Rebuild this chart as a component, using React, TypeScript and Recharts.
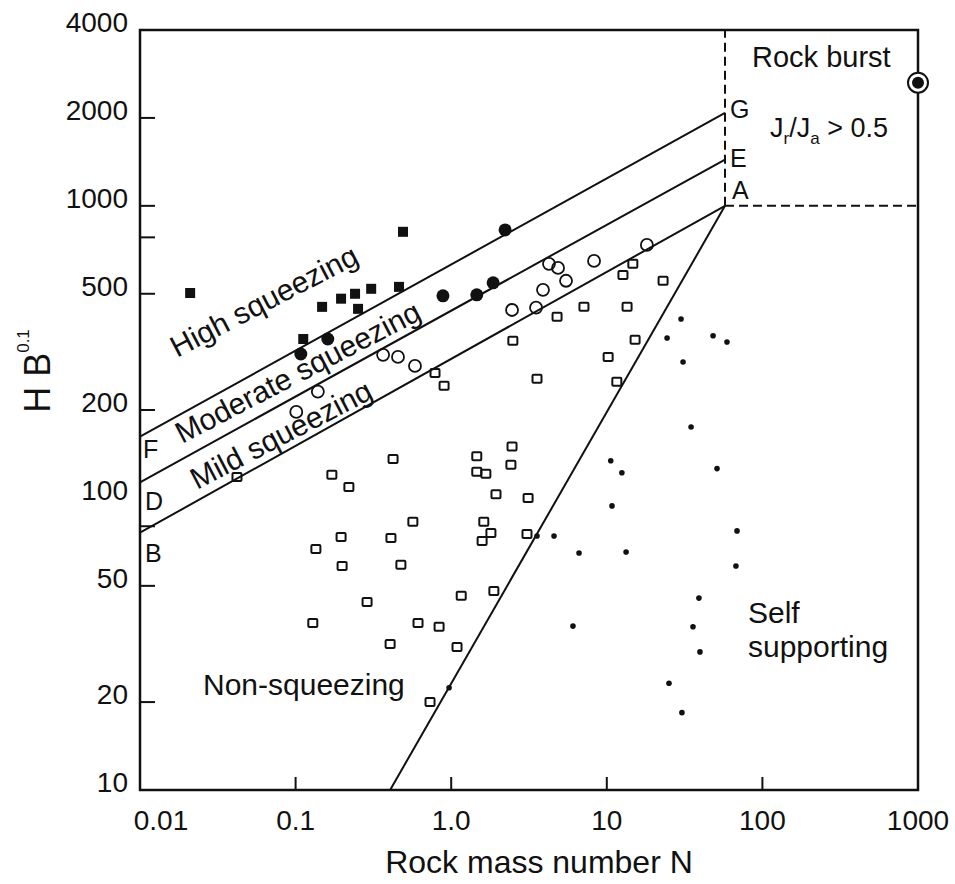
import React from 'react';
import {
  ScatterChart,
  Scatter,
  XAxis,
  YAxis,
  ReferenceLine,
  ReferenceArea,
} from 'recharts';

// [rock mass number N, H·B^0.1] pairs
const highSqueezing: [number, number][] = [
  [0.021, 503], [0.49, 815], [0.148, 451], [0.196, 481], [0.241, 500],
  [0.306, 520], [0.252, 444], [0.462, 528], [0.112, 350],
];

const moderateSqueezing: [number, number][] = [
  [0.108, 311], [0.161, 350], [0.885, 492], [1.46, 496], [1.86, 545], [2.22, 827],
];

const mildSqueezing: [number, number][] = [
  [0.139, 231], [0.101, 197], [0.365, 309], [0.455, 304], [0.585, 283],
  [4.25, 633], [4.86, 613], [5.47, 554], [3.89, 516], [8.28, 648],
  [18.1, 735], [2.46, 440], [3.51, 448],
];

const nonSqueezing: [number, number][] = [
  [0.787, 268], [0.9, 242], [0.423, 136], [0.171, 120], [0.22, 109],
  [0.042, 118], [14.7, 633], [12.7, 580], [23.0, 554], [4.79, 417],
  [7.13, 451], [13.5, 451], [2.49, 345], [15.2, 348], [10.2, 304],
  [3.56, 256], [11.6, 250], [2.46, 150], [1.46, 139], [2.42, 130],
  [1.46, 123], [1.67, 121], [1.94, 103], [3.12, 100], [0.567, 82.8],
  [0.196, 73.5], [0.41, 72.9], [0.135, 66.9], [0.199, 58.5], [0.475, 59.0],
  [1.62, 82.8], [1.8, 75.9], [1.58, 71.2], [3.07, 75.3], [0.288, 44.0],
  [1.16, 46.2], [1.88, 48.0], [0.129, 37.3], [0.612, 37.3], [0.836, 36.2],
  [0.405, 31.6], [1.09, 30.9], [0.731, 20.0],
];

const selfSupporting: [number, number][] = [
  [30.0, 410], [24.4, 353], [48.2, 359], [59.2, 342], [30.9, 292],
  [34.8, 175], [10.6, 134], [12.5, 122], [51.1, 126], [10.8, 93.9],
  [68.7, 77.1], [3.56, 74.1], [4.58, 74.1], [6.63, 64.8], [13.3, 65.3],
  [67.6, 58.5], [39.1, 45.4], [6.06, 36.4], [35.8, 36.2], [39.7, 29.7],
  [25.1, 23.2], [30.4, 18.4], [0.969, 22.4],
];

const rockBurst: [number, number][] = [[1000, 2640]];

// boundary end points (N, H·B^0.1)
const pointF = { n: 0.01, hb: 162 };
const pointG = { n: 57.5, hb: 2080 };
const pointD = { n: 0.01, hb: 113 };
const pointE = { n: 57.5, hb: 1440 };
const pointB = { n: 0.01, hb: 76 };
const pointA = { n: 57.5, hb: 1000 };
const nonSqueezingFoot = { n: 0.405, hb: 10 };

const xTicks = [0.01, 0.1, 1, 10, 100, 1000];
const xTickLabels = ['0.01', '0.1', '1.0', '10', '100', '1000'];
const xTickMarks = [0.1, 1, 10, 100];

const yTicks = [10, 20, 50, 80, 100, 200, 500, 780, 1000, 2000, 4000];
const yTickLabels = [10, 20, 50, 100, 200, 500, 1000, 2000, 4000];
const yTickMarks = [20, 50, 80, 200, 500, 780, 1000, 2000];

const toPoints = (rows: [number, number][]) => rows.map(([n, hb]) => ({ n, hb }));

const INK = '#111';
const FONT = '"Liberation Sans", Arial, sans-serif';

const XTick = (props: any) => {
  const { x, y, payload } = props;
  const i = xTicks.indexOf(payload.value);
  return (
    <g>
      {xTickMarks.includes(payload.value) && (
        <line x1={x} y1={y} x2={x} y2={y - 13} stroke={INK} strokeWidth={2} />
      )}
      <text x={x + (i === 0 ? 21 : 0)} y={y + 40} textAnchor="middle" fontSize={28} fill={INK} fontFamily={FONT}>
        {xTickLabels[i]}
      </text>
    </g>
  );
};

const YTick = (props: any) => {
  const { x, y, payload } = props;
  const v = payload.value;
  return (
    <g>
      {yTickMarks.includes(v) && <line x1={x} y1={y} x2={x + 15} y2={y} stroke={INK} strokeWidth={2} />}
      {yTickLabels.includes(v) && (
        <text x={x - 12} y={y + 2} textAnchor="end" fontSize={28} fill={INK} fontFamily={FONT}>
          {v}
        </text>
      )}
    </g>
  );
};

const FilledSquare = ({ cx, cy }: any) => <rect x={cx - 5} y={cy - 5} width={10} height={10} fill={INK} />;
const FilledCircle = ({ cx, cy }: any) => <circle cx={cx} cy={cy} r={6.5} fill={INK} />;
const OpenCircle = ({ cx, cy }: any) => (
  <circle cx={cx} cy={cy} r={6} fill="none" stroke={INK} strokeWidth={1.8} />
);
const OpenSquare = ({ cx, cy }: any) => (
  <rect x={cx - 4.5} y={cy - 4} width={9} height={8} rx={1} fill="none" stroke={INK} strokeWidth={2} />
);
const Dot = ({ cx, cy }: any) => <circle cx={cx} cy={cy} r={2.8} fill={INK} />;
const BurstMark = ({ cx, cy }: any) => (
  <g>
    <circle cx={cx} cy={cy} r={10} fill="#fff" stroke={INK} strokeWidth={2} />
    <circle cx={cx} cy={cy} r={6} fill={INK} />
  </g>
);

const App = () => {
  return (
    <div style={{ position: 'absolute', left: 0, top: 0, background: '#fff', fontFamily: FONT }}>
      <ScatterChart width={955} height={884} margin={{ top: 30, right: 37, bottom: 64, left: 80 }}>
        <XAxis
          type="number"
          dataKey="n"
          scale="log"
          domain={[0.01, 1000]}
          ticks={xTicks}
          interval={0}
          axisLine={false}
          tickLine={false}
          tickSize={0}
          tickMargin={0}
          tick={(p: any) => <XTick {...p} />}
          height={30}
        />
        <YAxis
          type="number"
          dataKey="hb"
          scale="log"
          domain={[10, 4000]}
          ticks={yTicks}
          interval={0}
          axisLine={false}
          tickLine={false}
          tickSize={0}
          tickMargin={0}
          tick={(p: any) => <YTick {...p} />}
          width={60}
        />

        <ReferenceArea x1={0.01} x2={1000} y1={10} y2={4000} fill="none" stroke={INK} strokeWidth={2.5} />

        <ReferenceLine segment={[{ x: pointF.n, y: pointF.hb }, { x: pointG.n, y: pointG.hb }]} stroke={INK} strokeWidth={2} />
        <ReferenceLine segment={[{ x: pointD.n, y: pointD.hb }, { x: pointE.n, y: pointE.hb }]} stroke={INK} strokeWidth={2} />
        <ReferenceLine segment={[{ x: pointB.n, y: pointB.hb }, { x: pointA.n, y: pointA.hb }]} stroke={INK} strokeWidth={2} />
        <ReferenceLine
          segment={[{ x: pointA.n, y: pointA.hb }, { x: nonSqueezingFoot.n, y: nonSqueezingFoot.hb }]}
          stroke={INK}
          strokeWidth={2}
        />
        <ReferenceLine
          segment={[{ x: pointA.n, y: pointA.hb }, { x: pointA.n, y: 4000 }]}
          stroke={INK}
          strokeWidth={2}
          strokeDasharray="9 5"
        />
        <ReferenceLine
          segment={[{ x: pointA.n, y: pointA.hb }, { x: 1000, y: pointA.hb }]}
          stroke={INK}
          strokeWidth={2}
          strokeDasharray="9 5"
        />

        <Scatter data={toPoints(nonSqueezing)} shape={OpenSquare} isAnimationActive={false} />
        <Scatter data={toPoints(selfSupporting)} shape={Dot} isAnimationActive={false} />
        <Scatter data={toPoints(mildSqueezing)} shape={OpenCircle} isAnimationActive={false} />
        <Scatter data={toPoints(moderateSqueezing)} shape={FilledCircle} isAnimationActive={false} />
        <Scatter data={toPoints(highSqueezing)} shape={FilledSquare} isAnimationActive={false} />
        <Scatter data={toPoints(rockBurst)} shape={BurstMark} isAnimationActive={false} />

        <g fill={INK} fontFamily={FONT}>
          <text transform="rotate(-90 50 371)" x={50} y={371} textAnchor="middle" fontSize={36}>
            H B<tspan fontSize={17} dy={-21}>0.1</tspan>
          </text>
          <text x={539} y={873} textAnchor="middle" fontSize={32}>Rock mass number N</text>

          <text x={752} y={67} fontSize={29}>Rock burst</text>
          <text x={770} y={137} fontSize={27}>
            J<tspan fontSize={17} dy={7}>r</tspan>
            <tspan dy={-7}>/J</tspan>
            <tspan fontSize={17} dy={7}>a</tspan>
            <tspan dy={-7}> &gt; 0.5</tspan>
          </text>

          <text x={730} y={118} fontSize={25}>G</text>
          <text x={730} y={167} fontSize={25}>E</text>
          <text x={732} y={199} fontSize={25}>A</text>
          <text x={143} y={458} fontSize={25}>F</text>
          <text x={145} y={510} fontSize={25}>D</text>
          <text x={145} y={562} fontSize={25}>B</text>

          <text transform="rotate(-27.5 177 358)" x={177} y={358} fontSize={30}>High squeezing</text>
          <text transform="rotate(-27.5 182 444)" x={182} y={444} fontSize={30}>Moderate squeezing</text>
          <text transform="rotate(-27.5 197 490)" x={197} y={490} fontSize={30}>Mild squeezing</text>

          <text x={203} y={695} fontSize={30}>Non-squeezing</text>
          <text x={748} y={623} fontSize={30}>Self</text>
          <text x={748} y={657} fontSize={30}>supporting</text>
        </g>
      </ScatterChart>
    </div>
  );
};

export default App;
